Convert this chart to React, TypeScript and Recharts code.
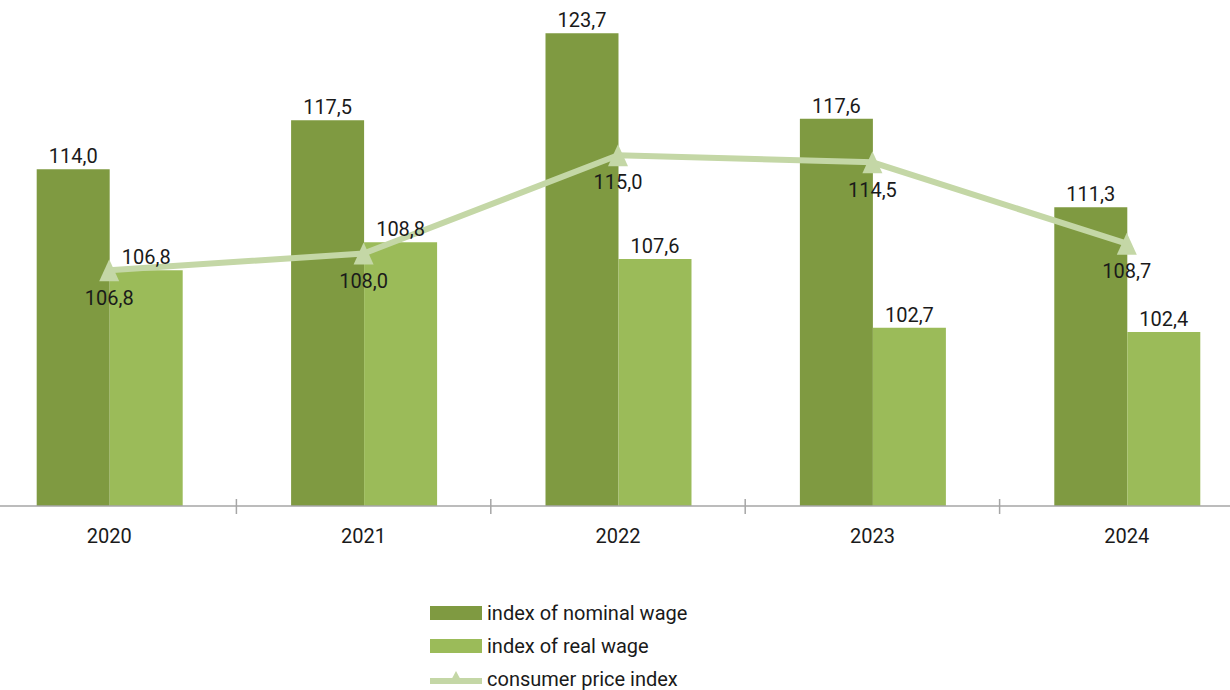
import React from 'react';
import {
  ComposedChart,
  Bar,
  Line,
  XAxis,
  YAxis,
  Legend,
  LabelList
} from 'recharts';

const years = ['2020', '2021', '2022', '2023', '2024'];
const nominalWage = [114.0, 117.5, 123.7, 117.6, 111.3];
const realWage = [106.8, 108.8, 107.6, 102.7, 102.4];
const cpi = [106.8, 108.0, 115.0, 114.5, 108.7];

const NOMINAL = '#7f9a41';
const REAL = '#9bbb59';
const CPI = '#c4d7a6';
const AXIS = '#a6a6a6';
const FONT = 'Roboto, "Noto Sans", sans-serif';

const CHART_W = 1272;
const CHART_H = 690;
const BAND = CHART_W / years.length;

const data = years.map((year, i) => ({
  year,
  nominal: nominalWage[i],
  real: realWage[i],
  cpi: cpi[i]
}));

const fmt = (v: any) => Number(v).toFixed(1).replace('.', ',');

// triangle marker for the price index line
const TriangleDot = (props: any) => {
  const { cx, cy } = props;
  if (cx == null || cy == null) return null;
  return (
    <path
      d={`M${cx},${cy - 11} L${cx + 10},${cy + 11} L${cx - 10},${cy + 11} Z`}
      fill={CPI}
    />
  );
};

// year label plus a small separator tick between categories
const YearTick = (props: any) => {
  const { x, y, payload, index } = props;
  return (
    <g>
      {index > 0 && (
        <line x1={x - BAND / 2} x2={x - BAND / 2} y1={y - 7} y2={y + 8} stroke={AXIS} strokeWidth={1.5} />
      )}
      <text x={x} y={y + 37} textAnchor="middle" fill="#1a1a1a" fontSize={20} fontFamily={FONT}>
        {payload.value}
      </text>
    </g>
  );
};

const LegendContent = () => {
  const rows = [
    { label: 'index of nominal wage', kind: 'bar', color: NOMINAL },
    { label: 'index of real wage', kind: 'bar', color: REAL },
    { label: 'consumer price index', kind: 'line', color: CPI }
  ];
  return (
    <div style={{ fontFamily: FONT, fontSize: 20, color: '#1a1a1a' }}>
      {rows.map(r => (
        <div key={r.label} style={{ display: 'flex', alignItems: 'center', height: 33 }}>
          <svg width={52} height={22} style={{ marginRight: 5 }}>
            {r.kind === 'bar' ? (
              <rect x={0} y={4} width={52} height={14} fill={r.color} />
            ) : (
              <g>
                <line x1={0} x2={52} y1={13} y2={13} stroke={r.color} strokeWidth={6} strokeLinecap="round" />
                <path d="M26,3 L33,16 L19,16 Z" fill={r.color} />
              </g>
            )}
          </svg>
          <span>{r.label}</span>
        </div>
      ))}
    </div>
  );
};

export default function App() {
  return (
    <div style={{ position: 'fixed', left: 0, top: 0, width: 1230, height: 690, overflow: 'hidden', background: '#fff' }}>
      <div style={{ position: 'absolute', left: -18, top: 0 }}>
        <ComposedChart
          width={CHART_W}
          height={CHART_H}
          data={data}
          margin={{ top: 15, right: 0, bottom: 124, left: 0 }}
          barCategoryGap="21.5%"
          barGap={0}
        >
          <XAxis
            dataKey="year"
            height={60}
            tickLine={false}
            tickSize={0}
            tickMargin={0}
            axisLine={{ stroke: AXIS, strokeWidth: 1.5 }}
            tick={<YearTick />}
            interval={0}
          />
          <YAxis hide domain={[90, 125]} allowDataOverflow />
          <Bar dataKey="nominal" fill={NOMINAL} isAnimationActive={false}>
            <LabelList dataKey="nominal" position="top" offset={6} formatter={fmt} fill="#1a1a1a" fontSize={20} fontFamily={FONT} />
          </Bar>
          <Bar dataKey="real" fill={REAL} isAnimationActive={false}>
            <LabelList dataKey="real" position="top" offset={6} formatter={fmt} fill="#1a1a1a" fontSize={20} fontFamily={FONT} />
          </Bar>
          <Line
            dataKey="cpi"
            stroke={CPI}
            strokeWidth={6}
            dot={<TriangleDot />}
            activeDot={false}
            isAnimationActive={false}
          >
            <LabelList dataKey="cpi" position="bottom" offset={20} formatter={fmt} fill="#1a1a1a" fontSize={20} fontFamily={FONT} />
          </Line>
          <Legend
            layout="vertical"
            verticalAlign="middle"
            align="center"
            content={<LegendContent />}
            wrapperStyle={{ top: 596, left: 448, width: 320, right: 'auto', bottom: 'auto' }}
          />
        </ComposedChart>
      </div>
    </div>
  );
}
